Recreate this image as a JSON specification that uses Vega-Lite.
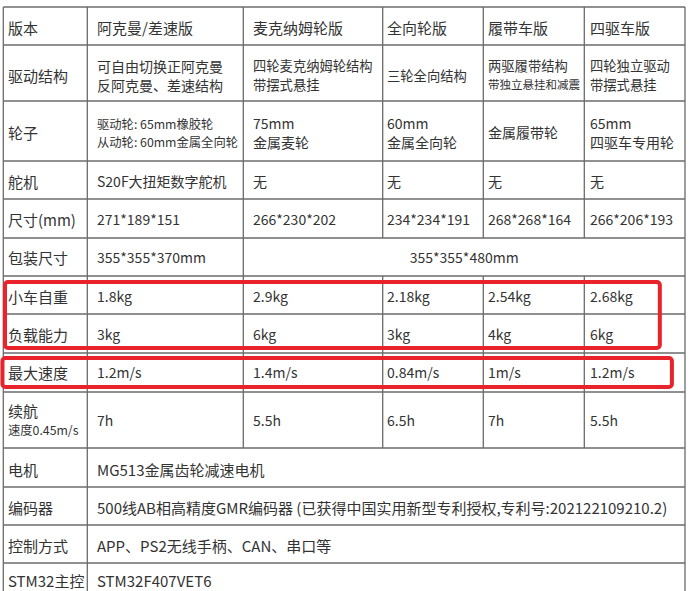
{
  "$schema": "https://vega.github.io/schema/vega-lite/v6.json",
  "width": 695,
  "height": 591,
  "padding": 0,
  "autosize": {"type": "fit", "contains": "padding"},
  "background": "white",
  "config": {
    "view": {"stroke": null},
    "text": {"font": "Noto Sans CJK SC", "color": "#333333", "align": "left", "baseline": "middle"}
  },
  "datasets": {
    "hlines": [
      {"k": 0}, {"k": 1}, {"k": 2}, {"k": 3}, {"k": 4}, {"k": 5}, {"k": 6},
      {"k": 7}, {"k": 8}, {"k": 9}, {"k": 10}, {"k": 11}, {"k": 12}, {"k": 13}
    ],
    "vlines": [
      {"c": 0, "r0": 0, "r1": 14},
      {"c": 1, "r0": 0, "r1": 14},
      {"c": 2, "r0": 0, "r1": 10},
      {"c": 3, "r0": 0, "r1": 5},
      {"c": 3, "r0": 6, "r1": 10},
      {"c": 4, "r0": 0, "r1": 5},
      {"c": 4, "r0": 6, "r1": 10},
      {"c": 5, "r0": 0, "r1": 5},
      {"c": 5, "r0": 6, "r1": 10},
      {"c": 6, "r0": 0, "r1": 14}
    ],
    "boxes": [
      {"x0": 0.02, "x1": 5.75, "y0": 6.16, "y1": 7.87},
      {"x0": -0.01, "x1": 5.87, "y0": 8.13, "y1": 8.87}
    ],
    "cells": [
      {"r": 0, "c": 0, "kind": "big", "t": "版本"},
      {"r": 0, "c": 1, "kind": "big", "t": "阿克曼/差速版"},
      {"r": 0, "c": 2, "kind": "big", "t": "麦克纳姆轮版"},
      {"r": 0, "c": 3, "kind": "big", "t": "全向轮版"},
      {"r": 0, "c": 4, "kind": "big", "t": "履带车版"},
      {"r": 0, "c": 5, "kind": "big", "t": "四驱车版"},
      {"r": 1, "c": 0, "kind": "big", "t": "驱动结构"},
      {"r": 1, "c": 1, "kind": "mid2", "t": "可自由切换正阿克曼\n反阿克曼、差速结构"},
      {"r": 1, "c": 2, "kind": "sm2", "t": "四轮麦克纳姆轮结构\n带摆式悬挂"},
      {"r": 1, "c": 3, "kind": "sm", "t": "三轮全向结构"},
      {"r": 1, "c": 4, "kind": "sm2", "t": "两驱履带结构\n"},
      {"r": 1, "c": 4, "kind": "tiny2", "t": "\n带独立悬挂和减震"},
      {"r": 1, "c": 5, "kind": "sm2", "t": "四轮独立驱动\n带摆式悬挂"},
      {"r": 2, "c": 0, "kind": "big", "t": "轮子"},
      {"r": 2, "c": 1, "kind": "small2", "t": "驱动轮: 65mm橡胶轮\n从动轮: 60mm金属全向轮"},
      {"r": 2, "c": 2, "kind": "mid2", "t": "75mm\n金属麦轮"},
      {"r": 2, "c": 3, "kind": "mid2", "t": "60mm\n金属全向轮"},
      {"r": 2, "c": 4, "kind": "mid", "t": "金属履带轮"},
      {"r": 2, "c": 5, "kind": "mid2", "t": "65mm\n四驱车专用轮"},
      {"r": 3, "c": 0, "kind": "big", "t": "舵机"},
      {"r": 3, "c": 1, "kind": "mid", "t": "S20F大扭矩数字舵机"},
      {"r": 3, "c": 2, "kind": "mid", "t": "无"},
      {"r": 3, "c": 3, "kind": "mid", "t": "无"},
      {"r": 3, "c": 4, "kind": "mid", "t": "无"},
      {"r": 3, "c": 5, "kind": "mid", "t": "无"},
      {"r": 4, "c": 0, "kind": "big", "t": "尺寸(mm)"},
      {"r": 4, "c": 1, "kind": "mid", "t": "271*189*151"},
      {"r": 4, "c": 2, "kind": "mid", "t": "266*230*202"},
      {"r": 4, "c": 3, "kind": "mid", "t": "234*234*191"},
      {"r": 4, "c": 4, "kind": "mid", "t": "268*268*164"},
      {"r": 4, "c": 5, "kind": "mid", "t": "266*206*193"},
      {"r": 5, "c": 0, "kind": "big", "t": "包装尺寸"},
      {"r": 5, "c": 1, "kind": "mid", "t": "355*355*370mm"},
      {"r": 6, "c": 0, "kind": "big", "t": "小车自重"},
      {"r": 6, "c": 1, "kind": "mid", "t": "1.8kg"},
      {"r": 6, "c": 2, "kind": "mid", "t": "2.9kg"},
      {"r": 6, "c": 3, "kind": "mid", "t": "2.18kg"},
      {"r": 6, "c": 4, "kind": "mid", "t": "2.54kg"},
      {"r": 6, "c": 5, "kind": "mid", "t": "2.68kg"},
      {"r": 7, "c": 0, "kind": "big", "t": "负载能力"},
      {"r": 7, "c": 1, "kind": "mid", "t": "3kg"},
      {"r": 7, "c": 2, "kind": "mid", "t": "6kg"},
      {"r": 7, "c": 3, "kind": "mid", "t": "3kg"},
      {"r": 7, "c": 4, "kind": "mid", "t": "4kg"},
      {"r": 7, "c": 5, "kind": "mid", "t": "6kg"},
      {"r": 8, "c": 0, "kind": "big", "t": "最大速度"},
      {"r": 8, "c": 1, "kind": "mid", "t": "1.2m/s"},
      {"r": 8, "c": 2, "kind": "mid", "t": "1.4m/s"},
      {"r": 8, "c": 3, "kind": "mid", "t": "0.84m/s"},
      {"r": 8, "c": 4, "kind": "mid", "t": "1m/s"},
      {"r": 8, "c": 5, "kind": "mid", "t": "1.2m/s"},
      {"r": 9, "c": 0, "kind": "big2", "t": "续航\n"},
      {"r": 9, "c": 0, "kind": "small2", "t": "\n速度0.45m/s"},
      {"r": 9, "c": 1, "kind": "mid", "t": "7h"},
      {"r": 9, "c": 2, "kind": "mid", "t": "5.5h"},
      {"r": 9, "c": 3, "kind": "mid", "t": "6.5h"},
      {"r": 9, "c": 4, "kind": "mid", "t": "7h"},
      {"r": 9, "c": 5, "kind": "mid", "t": "5.5h"},
      {"r": 10, "c": 0, "kind": "big", "t": "电机"},
      {"r": 10, "c": 1, "kind": "big", "t": "MG513金属齿轮减速电机"},
      {"r": 11, "c": 0, "kind": "big", "t": "编码器"},
      {"r": 11, "c": 1, "kind": "big", "t": "500线AB相高精度GMR编码器 (已获得中国实用新型专利授权,专利号:202122109210.2)"},
      {"r": 12, "c": 0, "kind": "big", "t": "控制方式"},
      {"r": 12, "c": 1, "kind": "big", "t": "APP、PS2无线手柄、CAN、串口等"},
      {"r": 13, "c": 0, "kind": "big", "t": "STM32主控"},
      {"r": 13, "c": 1, "kind": "big", "t": "STM32F407VET6"}
    ],
    "spans": [
      {"r": 5, "mid": 4, "t": "355*355*480mm"}
    ]
  },
  "layer": [
    {
      "layer": [
        {
          "data": {"name": "hlines"},
          "mark": {"type": "rule", "color": "#6b6b6b", "strokeWidth": 1.3},
          "encoding": {
            "y": {"field": "k", "type": "quantitative", "axis": null,
              "scale": {"domain": [0, 1, 2, 3, 4, 5, 6, 7, 8, 9, 10, 11, 12, 13, 14], "range": [7, 45, 101, 161, 199, 238, 276, 314, 353, 392, 448, 487, 525, 563, 601], "nice": false, "zero": false}},
            "x": {"datum": 0, "type": "quantitative", "axis": null,
              "scale": {"domain": [0, 1, 2, 3, 4, 5, 6], "range": [3.3, 87.3, 243.3, 382.7, 483.3, 584.3, 685], "nice": false, "zero": false}},
            "x2": {"datum": 6}
          }
        },
        {
          "data": {"name": "vlines"},
          "mark": {"type": "rule", "color": "#6b6b6b", "strokeWidth": 1.3},
          "encoding": {
            "x": {"field": "c", "type": "quantitative", "axis": null,
              "scale": {"domain": [0, 1, 2, 3, 4, 5, 6], "range": [3.3, 87.3, 243.3, 382.7, 483.3, 584.3, 685], "nice": false, "zero": false}},
            "y": {"field": "r0", "type": "quantitative", "axis": null,
              "scale": {"domain": [0, 1, 2, 3, 4, 5, 6, 7, 8, 9, 10, 11, 12, 13, 14], "range": [7, 45, 101, 161, 199, 238, 276, 314, 353, 392, 448, 487, 525, 563, 601], "nice": false, "zero": false}},
            "y2": {"field": "r1"}
          }
        },
        {
          "data": {"name": "boxes"},
          "mark": {"type": "rect", "fill": null, "fillOpacity": 0, "stroke": "#e8232b", "strokeWidth": 4, "cornerRadius": 3},
          "encoding": {
            "x": {"field": "x0", "type": "quantitative", "axis": null,
              "scale": {"domain": [0, 1, 2, 3, 4, 5, 6], "range": [3.3, 87.3, 243.3, 382.7, 483.3, 584.3, 685], "nice": false, "zero": false}},
            "x2": {"field": "x1"},
            "y": {"field": "y0", "type": "quantitative", "axis": null,
              "scale": {"domain": [0, 1, 2, 3, 4, 5, 6, 7, 8, 9, 10, 11, 12, 13, 14], "range": [7, 45, 101, 161, 199, 238, 276, 314, 353, 392, 448, 487, 525, 563, 601], "nice": false, "zero": false}},
            "y2": {"field": "y1"}
          }
        }
      ]
    },
    {
      "data": {"name": "cells"},
      "encoding": {
        "x": {"field": "c", "type": "quantitative", "axis": null,
          "scale": {"domain": [0, 1, 2, 3, 4, 5], "range": [8, 97, 253, 387, 488, 590], "nice": false, "zero": false}},
        "y": {"field": "r", "type": "quantitative", "axis": null,
          "scale": {"domain": [0, 1, 2, 3, 4, 5, 6, 7, 8, 9, 10, 11, 12, 13], "range": [29, 77, 134, 183, 221, 259, 298, 336, 374, 422, 471, 509, 547, 582], "nice": false, "zero": false}},
        "text": {"field": "t", "type": "nominal"}
      },
      "layer": [
        {
          "transform": [{"filter": "datum.kind === 'big'"}],
          "mark": {"type": "text", "fontSize": 15}
        },
        {
          "transform": [{"filter": "datum.kind === 'big2'"}],
          "mark": {"type": "text", "fontSize": 15, "lineBreak": "\n", "lineHeight": 19, "baseline": "line-bottom"}
        },
        {
          "transform": [{"filter": "datum.kind === 'mid'"}],
          "mark": {"type": "text", "fontSize": 14}
        },
        {
          "transform": [{"filter": "datum.kind === 'mid2'"}],
          "mark": {"type": "text", "fontSize": 14, "lineBreak": "\n", "lineHeight": 19, "baseline": "line-bottom"}
        },
        {
          "transform": [{"filter": "datum.kind === 'sm'"}],
          "mark": {"type": "text", "fontSize": 13.3}
        },
        {
          "transform": [{"filter": "datum.kind === 'sm2'"}],
          "mark": {"type": "text", "fontSize": 13.3, "lineBreak": "\n", "lineHeight": 19, "baseline": "line-bottom"}
        },
        {
          "transform": [{"filter": "datum.kind === 'small2'"}],
          "mark": {"type": "text", "fontSize": 12.3, "lineBreak": "\n", "lineHeight": 18, "baseline": "line-bottom"}
        },
        {
          "transform": [{"filter": "datum.kind === 'tiny2'"}],
          "mark": {"type": "text", "fontSize": 11.5, "lineBreak": "\n", "lineHeight": 18, "baseline": "line-bottom"}
        }
      ]
    },
    {
      "data": {"name": "spans"},
      "mark": {"type": "text", "fontSize": 14, "align": "center"},
      "encoding": {
        "x": {"field": "mid", "type": "quantitative", "axis": null,
          "scale": {"domain": [2, 6], "range": [243.3, 685], "nice": false, "zero": false}},
        "y": {"field": "r", "type": "quantitative", "axis": null,
          "scale": {"domain": [0, 1, 2, 3, 4, 5, 6, 7, 8, 9, 10, 11, 12, 13], "range": [29, 77, 134, 183, 221, 259, 298, 336, 374, 422, 471, 509, 547, 582], "nice": false, "zero": false}},
        "text": {"field": "t", "type": "nominal"}
      }
    }
  ],
  "resolve": {"scale": {"x": "independent", "y": "independent"}}
}
